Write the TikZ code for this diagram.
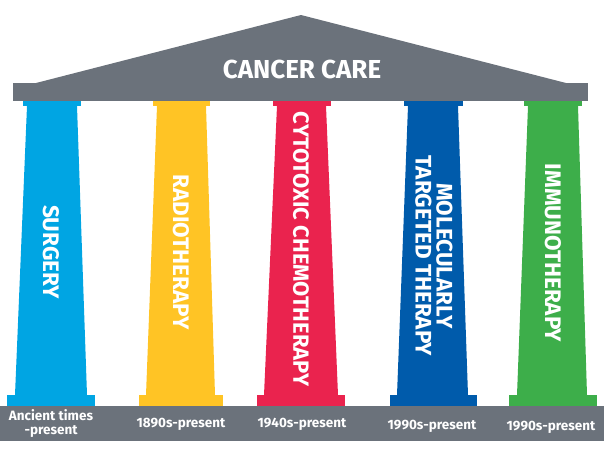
\documentclass[tikz,border=0pt]{standalone}
\usepackage{fontspec}
\setmainfont{Fira Sans}
\usepackage{xcolor}
\usetikzlibrary{positioning}

\definecolor{roofgray}{HTML}{6B727B}
\definecolor{surgblue}{HTML}{00A5E3}
\definecolor{radyellow}{HTML}{FFC425}
\definecolor{chemored}{HTML}{EA234E}
\definecolor{targetblue}{HTML}{005BAB}
\definecolor{immgreen}{HTML}{3DAE4A}

\begin{document}
\begin{tikzpicture}[x=1pt, y=-1pt,
        pillarlabel/.style={rotate=-90, text=white, align=center, inner sep=0pt, font=\bfseries\fontsize{22.5}{21}\selectfont},
        datelabel/.style={text=white, align=center, inner sep=0pt, font=\bfseries\fontsize{13.5}{14}\selectfont}
    ]
        \useasboundingbox (0,0) rectangle (607,450);

        % Roof
        \fill[roofgray] (36,83) -- (301,15) -- (566,83) -- cycle;
        \fill[roofgray] (13,83) rectangle (588,101);
        \node[text=white, inner sep=0pt, font=\bfseries\fontsize{26}{26}\selectfont] (roof) at (302,69) {CANCER CARE};

        % Plinth
        \fill[roofgray] (0,406) rectangle (604,441);

        % Pillar 1
        \fill[surgblue] (23,101) rectangle (81,106);
        \fill[surgblue] (27,106) -- (77,106) -- (87,395) -- (15,395) -- cycle;
        \fill[surgblue] (7,395) rectangle (95,406);
        \node[pillarlabel] (surgery) at (51,252) {SURGERY};
        \node[datelabel] (d1) at (51,424) {Ancient times\\-present};

        % Pillar 2
        \fill[radyellow] (153,101) rectangle (210,106);
        \fill[radyellow] (157,106) -- (206,106) -- (215,395) -- (146,395) -- cycle;
        \fill[radyellow] (139,395) rectangle (223,406);
        \node[pillarlabel] (radio) at (181,252) {RADIOTHERAPY};
        \node[datelabel] (d2) at (181,424) {1890s-present};

        % Pillar 3
        \fill[chemored] (273,101) rectangle (331,106);
        \fill[chemored] (277,106) -- (326,106) -- (338,395) -- (264,395) -- cycle;
        \fill[chemored] (257,395) rectangle (345,406);
        \node[pillarlabel, font=\bfseries\fontsize{22}{21}\selectfont] (chemo) at (301,249) {CYTOTOXIC CHEMOTHERAPY};
        \node[datelabel] (d3) at (302,424) {1940s-present};

        % Pillar 4
        \fill[targetblue] (404,101) rectangle (463,106);
        \fill[targetblue] (408,106) -- (458,106) -- (468,395) -- (397,395) -- cycle;
        \fill[targetblue] (390,395) rectangle (477,406);
        \node[pillarlabel] (target) at (434,256) {MOLECULARLY\\TARGETED THERAPY};
        \node[datelabel] (d4) at (432,426) {1990s-present};

        % Pillar 5
        \fill[immgreen] (524,101) rectangle (582,106);
        \fill[immgreen] (528,106) -- (578,106) -- (587,395) -- (517,395) -- cycle;
        \fill[immgreen] (509,395) rectangle (597,406);
        \node[pillarlabel] (immuno) at (553,253) {IMMUNOTHERAPY};
        \node[datelabel] (d5) at (551,427) {1990s-present};

    \end{tikzpicture}
\end{document}
